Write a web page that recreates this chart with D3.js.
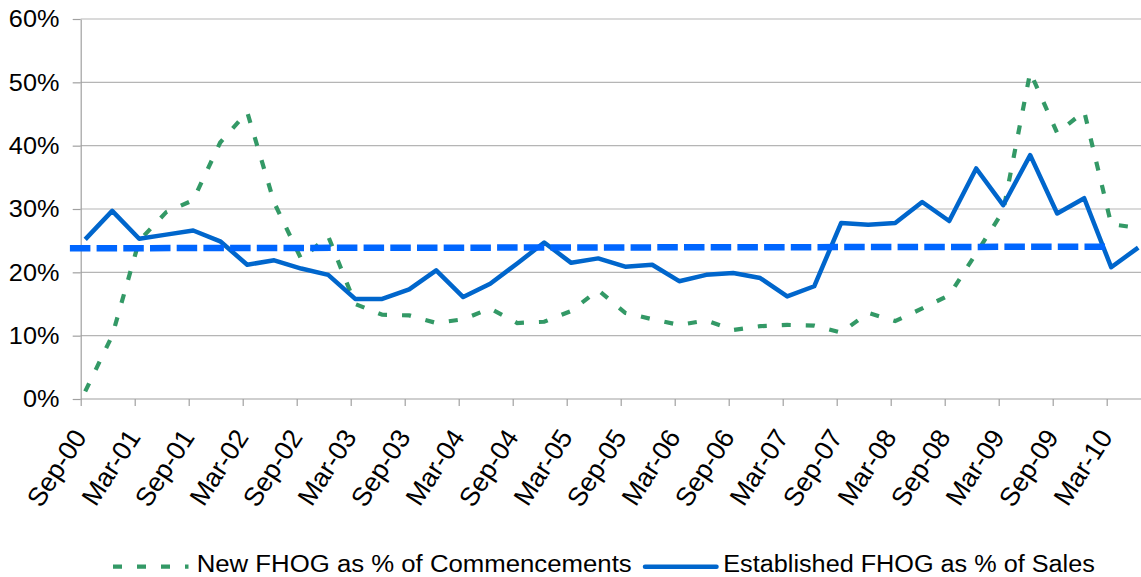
<!DOCTYPE html>
<html><head><meta charset="utf-8">
<script src="https://cdn.jsdelivr.net/npm/d3@7"></script>
<style>
html,body{margin:0;padding:0;background:#fff;}
svg{display:block;}
text{font-family:"Liberation Sans",Arial,Helvetica,sans-serif;fill:#000;}
</style>
</head><body>
<svg id="chart" width="1141" height="577"></svg>
<script>
// ---------------- data ----------------
const quarters = ["Sep-00","Dec-00","Mar-01","Jun-01","Sep-01","Dec-01","Mar-02","Jun-02","Sep-02","Dec-02",
  "Mar-03","Jun-03","Sep-03","Dec-03","Mar-04","Jun-04","Sep-04","Dec-04","Mar-05","Jun-05",
  "Sep-05","Dec-05","Mar-06","Jun-06","Sep-06","Dec-06","Mar-07","Jun-07","Sep-07","Dec-07",
  "Mar-08","Jun-08","Sep-08","Dec-08","Mar-09","Jun-09","Sep-09","Dec-09","Mar-10","Jun-10"];

const newFHOG = [1.2, 10.0, 25.0, 29.5, 31.4, 40.5, 45.3, 31.0, 22.1, 25.7,
  15.0, 13.3, 13.2, 12.0, 12.6, 14.3, 12.0, 12.2, 13.9, 17.2,
  13.6, 12.6, 11.7, 12.4, 10.9, 11.5, 11.7, 11.6, 10.5, 13.6,
  12.3, 14.3, 16.4, 23.0, 29.7, 51.6, 42.0, 45.4, 27.6, 27.0];

const establishedFHOG = [25.2, 29.7, 25.3, 25.95, 26.6, 24.9, 21.2, 21.9, 20.6, 19.6,
  15.8, 15.8, 17.3, 20.3, 16.1, 18.2, 21.4, 24.7, 21.5, 22.2,
  20.9, 21.2, 18.6, 19.6, 19.9, 19.1, 16.2, 17.8, 27.8, 27.5,
  27.8, 31.1, 28.1, 36.4, 30.6, 38.5, 29.3, 31.7, 20.8, 23.9];

// reference (average) line: values at its two ends, ends given in months from Sep-00
const averageValues = [23.8, 24.05];
const averageMonths = [-1.2, 114.5];

const yTicks = [0, 10, 20, 30, 40, 50, 60];
const xTickLabels = ["Sep-00","Mar-01","Sep-01","Mar-02","Sep-02","Mar-03","Sep-03","Mar-04","Sep-04","Mar-05",
  "Sep-05","Mar-06","Sep-06","Mar-07","Sep-07","Mar-08","Sep-08","Mar-09","Sep-09","Mar-10"];
const seriesNames = ["New FHOG as % of Commencements", "Established FHOG as % of Sales"];

// ---------------- helpers ----------------
const MONTHS = {Jan:1,Feb:2,Mar:3,Apr:4,May:5,Jun:6,Jul:7,Aug:8,Sep:9,Oct:10,Nov:11,Dec:12};
function monthIndex(lbl){ const [m,y]=lbl.split("-"); return (+y)*12 + MONTHS[m] - 9; }

const svg = d3.select("#chart");
const W = 1141, H = 577;
svg.append("rect").attr("width",W).attr("height",H).attr("fill","#fff");

const x = d3.scaleLinear().domain([0, 114]).range([80.7, 1106.7]);
const y = d3.scaleLinear().domain([0, 60]).range([399, 19]);
const plotRight = 1141;
const FS = 23.5, SX = 1.075;
const gridColor = "#b5b5b5", axisColor = "#a0a0a0";

// gridlines
svg.append("g").selectAll("line").data(yTicks.filter(d=>d>0)).join("line")
  .attr("x1", x(0)).attr("x2", plotRight)
  .attr("y1", d=>y(d)).attr("y2", d=>y(d))
  .attr("stroke", gridColor).attr("stroke-width", 1.2);

// y axis
const yAxis = svg.append("g").attr("transform", `translate(${x(0)},0)`)
  .call(d3.axisLeft(y).tickValues(yTicks).tickSize(8).tickSizeOuter(0).tickFormat(d=>d+"%"));
yAxis.select(".domain").attr("stroke", axisColor).attr("stroke-width",1.2);
yAxis.selectAll(".tick line").attr("stroke", axisColor).attr("stroke-width",1.2);
yAxis.selectAll(".tick text")
  .attr("x", null).attr("dy","0.33em")
  .attr("transform", `translate(-21.3,0) scale(${SX},1)`)
  .style("font-size", FS+"px").style("text-anchor","end").attr("fill","#000");

// x axis
const xAxis = svg.append("g").attr("transform", `translate(0,${y(0)})`)
  .call(d3.axisBottom(x).tickValues(xTickLabels.map(monthIndex)).tickSize(7).tickSizeOuter(0)
    .tickFormat((d,i)=>xTickLabels[i]));
xAxis.select(".domain").remove();
xAxis.append("line").attr("x1", x(0)).attr("x2", plotRight).attr("y1",0).attr("y2",0)
  .attr("stroke", axisColor).attr("stroke-width",1.2);
xAxis.selectAll(".tick line").attr("stroke", axisColor).attr("stroke-width",1.2);
xAxis.selectAll(".tick text")
  .attr("y", null).attr("dy","0.35em")
  .attr("transform", `translate(-1.5,33) rotate(-57)`)
  .style("font-size", "26.5px").style("text-anchor","end").attr("fill","#000");

// series
const px = (d,i)=>x(monthIndex(quarters[i]) + 0.5);
const line = d3.line().x(px).y(d=>y(d));

svg.append("path").datum(newFHOG).attr("d", line)
  .attr("fill","none").attr("stroke","#339966").attr("stroke-width",4.2)
  .attr("stroke-dasharray","9,15");

svg.append("path").datum(establishedFHOG).attr("d", line)
  .attr("fill","none").attr("stroke","#0066cc").attr("stroke-width",4.5)
  .attr("stroke-linejoin","round");

// average reference line
svg.append("path").datum(averageValues)
  .attr("d", d3.line().x((d,i)=>x(averageMonths[i])).y(d=>y(d)))
  .attr("fill","none").attr("stroke","#0066ff").attr("stroke-width",6.5)
  .attr("stroke-dasharray","20.5,6.2");

// legend
const lg = svg.append("g");
const legendY = 566.7;
lg.append("line").attr("x1",113).attr("x2",188.5).attr("y1",legendY).attr("y2",legendY)
  .attr("stroke","#339966").attr("stroke-width",4.2).attr("stroke-dasharray","9,15");
lg.append("text").attr("x",196.7).attr("y",571.7)
  .attr("textLength",435).attr("lengthAdjust","spacingAndGlyphs")
  .style("font-size",FS+"px").text(seriesNames[0]);
lg.append("line").attr("x1",645).attr("x2",716.5).attr("y1",legendY).attr("y2",legendY)
  .attr("stroke","#0066cc").attr("stroke-width",4.5).attr("stroke-linecap","round");
lg.append("text").attr("x",723.3).attr("y",571.7)
  .attr("textLength",371.5).attr("lengthAdjust","spacingAndGlyphs")
  .style("font-size",FS+"px").text(seriesNames[1]);
</script>
</body></html>
